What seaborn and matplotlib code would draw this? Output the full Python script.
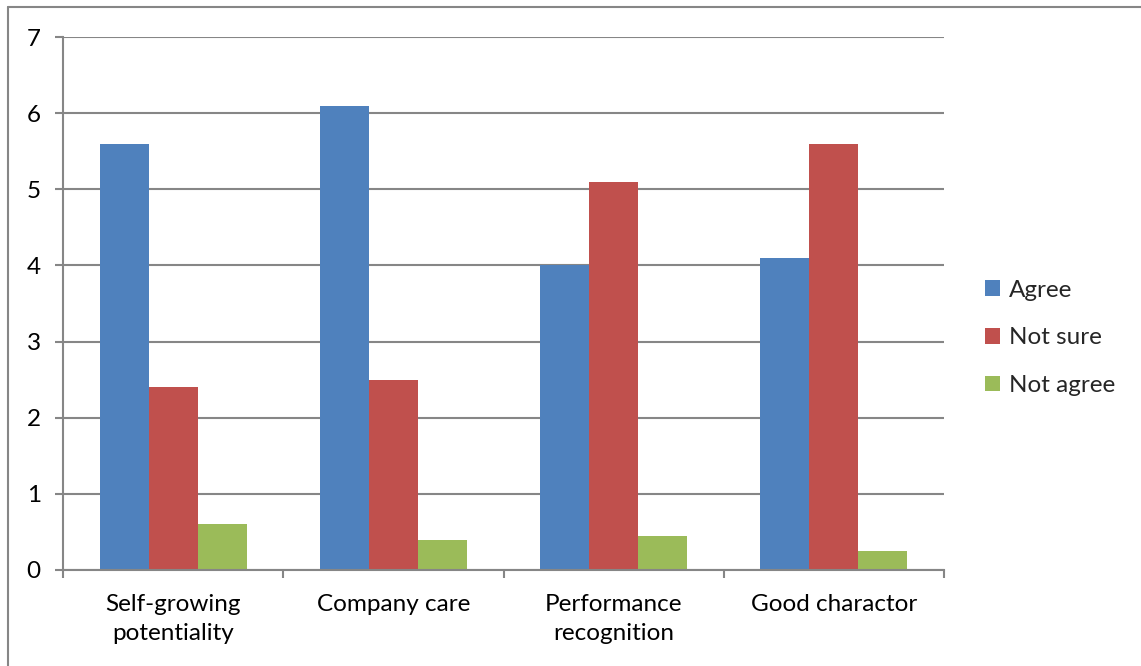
import matplotlib
matplotlib.use("Agg")
import matplotlib.pyplot as plt
import seaborn as sns
import pandas as pd
from matplotlib.lines import Line2D

categories = ["Self-growing\npotentiality", "Company care", "Performance\nrecognition", "Good charactor"]
series = ["Agree", "Not sure", "Not agree"]
agree = [5.6, 6.1, 4.0, 4.1]
not_sure = [2.4, 2.5, 5.1, 5.6]
not_agree = [0.6, 0.4, 0.45, 0.25]
colors = ["#4F81BD", "#C0504D", "#9BBB59"]

rows = []
for vals, s in zip([agree, not_sure, not_agree], series):
    for c, v in zip(categories, vals):
        rows.append({"category": c, "series": s, "value": v})
df = pd.DataFrame(rows)

sns.set_theme(style="white")
plt.rcParams['font.family'] = ['Lato', 'DejaVu Sans']

fs = 17.5
fig = plt.figure(figsize=(11.41, 6.66), dpi=100)
ax = fig.add_axes([63/1141, 1-570/666, (944-63)/1141, (570-37)/666])

sns.barplot(data=df, x="category", y="value", hue="series", order=categories,
            hue_order=series, palette=colors, width=0.667, ax=ax, saturation=1,
            linewidth=0, legend=True)

gc = "#868686"
ax.set_xlim(-0.5, 3.5)
ax.set_ylim(0, 7)
ax.set_yticks(range(0, 8))
ax.set_xlabel("")
ax.set_ylabel("")
ax.yaxis.grid(True, color=gc, linewidth=1.5)
ax.set_axisbelow(True)
for s in ["top", "right"]:
    ax.spines[s].set_visible(False)
for s in ["left", "bottom"]:
    ax.spines[s].set_color(gc)
    ax.spines[s].set_linewidth(1.5)

ax.tick_params(axis="y", which="major", length=6, width=1.5, color=gc, direction="out",
               labelsize=fs, pad=10, labelcolor="black", left=True)
ax.tick_params(axis="x", which="major", length=0, labelsize=fs, pad=17, labelcolor="black")
ax.set_xticks([-0.5, 0.5, 1.5, 2.5, 3.5], minor=True)
ax.tick_params(axis="x", which="minor", length=6, width=1.5, color=gc, direction="out", bottom=True)
for lab in ax.get_xticklabels():
    lab.set_linespacing(1.5)

handles, labels = ax.get_legend_handles_labels()
ax.legend(handles, labels, loc="center left", bbox_to_anchor=(985/1141, 1-338/666),
          bbox_transform=fig.transFigure, frameon=False, fontsize=fs,
          handlelength=0.6, handleheight=0.6, handletextpad=0.4, labelspacing=1.1,
          borderaxespad=0, borderpad=0)

# chart frame
fig.add_artist(Line2D([8/1141, 8/1141], [0, 1-7/666], transform=fig.transFigure, color=gc, linewidth=1.5))
fig.add_artist(Line2D([8/1141, 1], [1-7/666, 1-7/666], transform=fig.transFigure, color=gc, linewidth=1.5))

fig.savefig("out.png", dpi=100, facecolor="white")
